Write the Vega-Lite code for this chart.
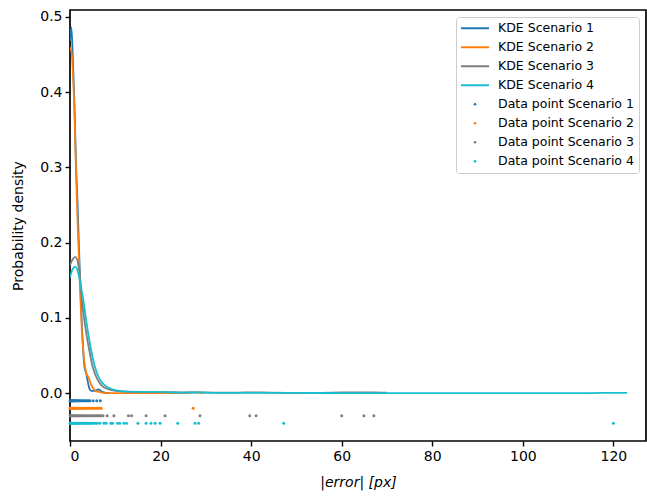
{
  "$schema": "https://vega.github.io/schema/vega-lite/v6.json",
  "width": 576,
  "height": 431,
  "autosize": {"type": "none"},
  "padding": {"left": 70, "top": 10, "right": 1, "bottom": 55},
  "background": "white",
  "config": {
    "font": "DejaVu Sans",
    "view": {"stroke": "black", "strokeWidth": 1.7},
    "axis": {
      "domain": false,
      "grid": false,
      "ticks": true,
      "tickColor": "black",
      "tickSize": 5,
      "tickWidth": 1.4,
      "labelColor": "black",
      "labelFontSize": 14,
      "labelPadding": 3,
      "titleColor": "black",
      "titleFontSize": 14,
      "titleFontWeight": "normal"
    }
  },
  "datasets": {
    "kde": [
      {"series": "KDE Scenario 1", "x": 0, "y": 0.468},
      {"series": "KDE Scenario 1", "x": 0.3, "y": 0.486},
      {"series": "KDE Scenario 1", "x": 0.6, "y": 0.45},
      {"series": "KDE Scenario 1", "x": 1.0, "y": 0.38},
      {"series": "KDE Scenario 1", "x": 1.3, "y": 0.31},
      {"series": "KDE Scenario 1", "x": 1.65, "y": 0.255},
      {"series": "KDE Scenario 1", "x": 2.0, "y": 0.19},
      {"series": "KDE Scenario 1", "x": 2.4, "y": 0.125},
      {"series": "KDE Scenario 1", "x": 2.7, "y": 0.08},
      {"series": "KDE Scenario 1", "x": 2.9, "y": 0.058},
      {"series": "KDE Scenario 1", "x": 3.1, "y": 0.04},
      {"series": "KDE Scenario 1", "x": 3.3, "y": 0.032},
      {"series": "KDE Scenario 1", "x": 3.6, "y": 0.026},
      {"series": "KDE Scenario 1", "x": 3.9, "y": 0.016},
      {"series": "KDE Scenario 1", "x": 4.3, "y": 0.006},
      {"series": "KDE Scenario 1", "x": 4.7, "y": 0.003},
      {"series": "KDE Scenario 1", "x": 5.3, "y": 0.003},
      {"series": "KDE Scenario 1", "x": 5.8, "y": 0.004},
      {"series": "KDE Scenario 1", "x": 6.3, "y": 0.005},
      {"series": "KDE Scenario 1", "x": 6.8, "y": 0.003},
      {"series": "KDE Scenario 1", "x": 7.4, "y": 0.001},
      {"series": "KDE Scenario 1", "x": 8.2, "y": 0.0002},
      {"series": "KDE Scenario 1", "x": 9.0, "y": 0},
      {"series": "KDE Scenario 2", "x": 0, "y": 0.455},
      {"series": "KDE Scenario 2", "x": 0.25, "y": 0.459},
      {"series": "KDE Scenario 2", "x": 0.6, "y": 0.43},
      {"series": "KDE Scenario 2", "x": 1.0, "y": 0.37},
      {"series": "KDE Scenario 2", "x": 1.3, "y": 0.3},
      {"series": "KDE Scenario 2", "x": 1.6, "y": 0.24},
      {"series": "KDE Scenario 2", "x": 2.0, "y": 0.175},
      {"series": "KDE Scenario 2", "x": 2.3, "y": 0.125},
      {"series": "KDE Scenario 2", "x": 2.6, "y": 0.085},
      {"series": "KDE Scenario 2", "x": 2.9, "y": 0.059},
      {"series": "KDE Scenario 2", "x": 3.2, "y": 0.04},
      {"series": "KDE Scenario 2", "x": 3.4, "y": 0.032},
      {"series": "KDE Scenario 2", "x": 3.7, "y": 0.025},
      {"series": "KDE Scenario 2", "x": 4.0, "y": 0.022},
      {"series": "KDE Scenario 2", "x": 4.3, "y": 0.018},
      {"series": "KDE Scenario 2", "x": 4.7, "y": 0.011},
      {"series": "KDE Scenario 2", "x": 5.2, "y": 0.006},
      {"series": "KDE Scenario 2", "x": 5.7, "y": 0.003},
      {"series": "KDE Scenario 2", "x": 6.2, "y": 0.002},
      {"series": "KDE Scenario 2", "x": 7.0, "y": 0.0008},
      {"series": "KDE Scenario 2", "x": 8.0, "y": 0.0002},
      {"series": "KDE Scenario 2", "x": 10.0, "y": 0},
      {"series": "KDE Scenario 2", "x": 20.0, "y": 0},
      {"series": "KDE Scenario 2", "x": 25.0, "y": 0.0001},
      {"series": "KDE Scenario 2", "x": 27.3, "y": 0.001},
      {"series": "KDE Scenario 2", "x": 29.5, "y": 0.0001},
      {"series": "KDE Scenario 3", "x": 0, "y": 0.17},
      {"series": "KDE Scenario 3", "x": 0.6, "y": 0.178},
      {"series": "KDE Scenario 3", "x": 1.2, "y": 0.181},
      {"series": "KDE Scenario 3", "x": 1.8, "y": 0.172},
      {"series": "KDE Scenario 3", "x": 2.2, "y": 0.155},
      {"series": "KDE Scenario 3", "x": 2.6, "y": 0.125},
      {"series": "KDE Scenario 3", "x": 3.0, "y": 0.105},
      {"series": "KDE Scenario 3", "x": 3.5, "y": 0.083},
      {"series": "KDE Scenario 3", "x": 4.2, "y": 0.059},
      {"series": "KDE Scenario 3", "x": 5.0, "y": 0.035},
      {"series": "KDE Scenario 3", "x": 6.0, "y": 0.019},
      {"series": "KDE Scenario 3", "x": 7.0, "y": 0.01},
      {"series": "KDE Scenario 3", "x": 8.6, "y": 0.005},
      {"series": "KDE Scenario 3", "x": 10, "y": 0.003},
      {"series": "KDE Scenario 3", "x": 12, "y": 0.002},
      {"series": "KDE Scenario 3", "x": 14, "y": 0.0015},
      {"series": "KDE Scenario 3", "x": 17, "y": 0.0015},
      {"series": "KDE Scenario 3", "x": 21, "y": 0.0015},
      {"series": "KDE Scenario 3", "x": 25, "y": 0.001},
      {"series": "KDE Scenario 3", "x": 29, "y": 0.001},
      {"series": "KDE Scenario 3", "x": 33, "y": 0.0007},
      {"series": "KDE Scenario 3", "x": 37, "y": 0.0008},
      {"series": "KDE Scenario 3", "x": 40.5, "y": 0.0012},
      {"series": "KDE Scenario 3", "x": 44, "y": 0.0008},
      {"series": "KDE Scenario 3", "x": 50, "y": 0.0005},
      {"series": "KDE Scenario 3", "x": 55, "y": 0.0005},
      {"series": "KDE Scenario 3", "x": 60, "y": 0.0009},
      {"series": "KDE Scenario 3", "x": 64, "y": 0.001},
      {"series": "KDE Scenario 3", "x": 67, "y": 0.001},
      {"series": "KDE Scenario 3", "x": 69, "y": 0.0008},
      {"series": "KDE Scenario 3", "x": 70, "y": 0.0006},
      {"series": "KDE Scenario 4", "x": 0, "y": 0.154},
      {"series": "KDE Scenario 4", "x": 0.6, "y": 0.165},
      {"series": "KDE Scenario 4", "x": 1.2, "y": 0.168},
      {"series": "KDE Scenario 4", "x": 1.8, "y": 0.16},
      {"series": "KDE Scenario 4", "x": 2.3, "y": 0.145},
      {"series": "KDE Scenario 4", "x": 2.9, "y": 0.125},
      {"series": "KDE Scenario 4", "x": 3.5, "y": 0.1},
      {"series": "KDE Scenario 4", "x": 4.0, "y": 0.08},
      {"series": "KDE Scenario 4", "x": 4.6, "y": 0.059},
      {"series": "KDE Scenario 4", "x": 5.5, "y": 0.035},
      {"series": "KDE Scenario 4", "x": 6.5, "y": 0.019},
      {"series": "KDE Scenario 4", "x": 7.8, "y": 0.01},
      {"series": "KDE Scenario 4", "x": 9.4, "y": 0.005},
      {"series": "KDE Scenario 4", "x": 11, "y": 0.003},
      {"series": "KDE Scenario 4", "x": 13, "y": 0.002},
      {"series": "KDE Scenario 4", "x": 16, "y": 0.0018},
      {"series": "KDE Scenario 4", "x": 19, "y": 0.0018},
      {"series": "KDE Scenario 4", "x": 22, "y": 0.0012},
      {"series": "KDE Scenario 4", "x": 25, "y": 0.0008},
      {"series": "KDE Scenario 4", "x": 28, "y": 0.001},
      {"series": "KDE Scenario 4", "x": 32, "y": 0.0005},
      {"series": "KDE Scenario 4", "x": 38, "y": 0.0003},
      {"series": "KDE Scenario 4", "x": 44, "y": 0.0003},
      {"series": "KDE Scenario 4", "x": 47, "y": 0.0005},
      {"series": "KDE Scenario 4", "x": 50, "y": 0.0003},
      {"series": "KDE Scenario 4", "x": 60, "y": 0.0002},
      {"series": "KDE Scenario 4", "x": 80, "y": 0.0001},
      {"series": "KDE Scenario 4", "x": 100, "y": 0.0001},
      {"series": "KDE Scenario 4", "x": 115, "y": 0.0002},
      {"series": "KDE Scenario 4", "x": 120, "y": 0.0004},
      {"series": "KDE Scenario 4", "x": 123, "y": 0.0003}
    ],
    "pts": [
      {"series": "Data point Scenario 1", "x": 0.02, "y": -0.01},
      {"series": "Data point Scenario 1", "x": 0.1, "y": -0.01},
      {"series": "Data point Scenario 1", "x": 0.2, "y": -0.01},
      {"series": "Data point Scenario 1", "x": 0.3, "y": -0.01},
      {"series": "Data point Scenario 1", "x": 0.4, "y": -0.01},
      {"series": "Data point Scenario 1", "x": 0.5, "y": -0.01},
      {"series": "Data point Scenario 1", "x": 0.6, "y": -0.01},
      {"series": "Data point Scenario 1", "x": 0.75, "y": -0.01},
      {"series": "Data point Scenario 1", "x": 0.9, "y": -0.01},
      {"series": "Data point Scenario 1", "x": 1.05, "y": -0.01},
      {"series": "Data point Scenario 1", "x": 1.2, "y": -0.01},
      {"series": "Data point Scenario 1", "x": 1.4, "y": -0.01},
      {"series": "Data point Scenario 1", "x": 1.6, "y": -0.01},
      {"series": "Data point Scenario 1", "x": 1.8, "y": -0.01},
      {"series": "Data point Scenario 1", "x": 2.0, "y": -0.01},
      {"series": "Data point Scenario 1", "x": 2.2, "y": -0.01},
      {"series": "Data point Scenario 1", "x": 2.45, "y": -0.01},
      {"series": "Data point Scenario 1", "x": 2.7, "y": -0.01},
      {"series": "Data point Scenario 1", "x": 2.95, "y": -0.01},
      {"series": "Data point Scenario 1", "x": 3.2, "y": -0.01},
      {"series": "Data point Scenario 1", "x": 3.5, "y": -0.01},
      {"series": "Data point Scenario 1", "x": 3.8, "y": -0.01},
      {"series": "Data point Scenario 1", "x": 4.1, "y": -0.01},
      {"series": "Data point Scenario 1", "x": 4.4, "y": -0.01},
      {"series": "Data point Scenario 1", "x": 5.1, "y": -0.01},
      {"series": "Data point Scenario 1", "x": 5.9, "y": -0.01},
      {"series": "Data point Scenario 1", "x": 6.7, "y": -0.01},
      {"series": "Data point Scenario 2", "x": 0.02, "y": -0.02},
      {"series": "Data point Scenario 2", "x": 0.1, "y": -0.02},
      {"series": "Data point Scenario 2", "x": 0.2, "y": -0.02},
      {"series": "Data point Scenario 2", "x": 0.3, "y": -0.02},
      {"series": "Data point Scenario 2", "x": 0.45, "y": -0.02},
      {"series": "Data point Scenario 2", "x": 0.6, "y": -0.02},
      {"series": "Data point Scenario 2", "x": 0.75, "y": -0.02},
      {"series": "Data point Scenario 2", "x": 0.9, "y": -0.02},
      {"series": "Data point Scenario 2", "x": 1.1, "y": -0.02},
      {"series": "Data point Scenario 2", "x": 1.3, "y": -0.02},
      {"series": "Data point Scenario 2", "x": 1.5, "y": -0.02},
      {"series": "Data point Scenario 2", "x": 1.7, "y": -0.02},
      {"series": "Data point Scenario 2", "x": 1.9, "y": -0.02},
      {"series": "Data point Scenario 2", "x": 2.1, "y": -0.02},
      {"series": "Data point Scenario 2", "x": 2.35, "y": -0.02},
      {"series": "Data point Scenario 2", "x": 2.6, "y": -0.02},
      {"series": "Data point Scenario 2", "x": 2.85, "y": -0.02},
      {"series": "Data point Scenario 2", "x": 3.1, "y": -0.02},
      {"series": "Data point Scenario 2", "x": 3.4, "y": -0.02},
      {"series": "Data point Scenario 2", "x": 3.7, "y": -0.02},
      {"series": "Data point Scenario 2", "x": 4.0, "y": -0.02},
      {"series": "Data point Scenario 2", "x": 4.3, "y": -0.02},
      {"series": "Data point Scenario 2", "x": 4.6, "y": -0.02},
      {"series": "Data point Scenario 2", "x": 4.9, "y": -0.02},
      {"series": "Data point Scenario 2", "x": 5.2, "y": -0.02},
      {"series": "Data point Scenario 2", "x": 5.5, "y": -0.02},
      {"series": "Data point Scenario 2", "x": 5.85, "y": -0.02},
      {"series": "Data point Scenario 2", "x": 6.2, "y": -0.02},
      {"series": "Data point Scenario 2", "x": 6.6, "y": -0.02},
      {"series": "Data point Scenario 2", "x": 6.9, "y": -0.02},
      {"series": "Data point Scenario 2", "x": 27.2, "y": -0.02},
      {"series": "Data point Scenario 3", "x": 0.02, "y": -0.03},
      {"series": "Data point Scenario 3", "x": 0.15, "y": -0.03},
      {"series": "Data point Scenario 3", "x": 0.3, "y": -0.03},
      {"series": "Data point Scenario 3", "x": 0.45, "y": -0.03},
      {"series": "Data point Scenario 3", "x": 0.6, "y": -0.03},
      {"series": "Data point Scenario 3", "x": 0.8, "y": -0.03},
      {"series": "Data point Scenario 3", "x": 1.0, "y": -0.03},
      {"series": "Data point Scenario 3", "x": 1.2, "y": -0.03},
      {"series": "Data point Scenario 3", "x": 1.4, "y": -0.03},
      {"series": "Data point Scenario 3", "x": 1.6, "y": -0.03},
      {"series": "Data point Scenario 3", "x": 1.8, "y": -0.03},
      {"series": "Data point Scenario 3", "x": 2.0, "y": -0.03},
      {"series": "Data point Scenario 3", "x": 2.25, "y": -0.03},
      {"series": "Data point Scenario 3", "x": 2.5, "y": -0.03},
      {"series": "Data point Scenario 3", "x": 2.75, "y": -0.03},
      {"series": "Data point Scenario 3", "x": 3.0, "y": -0.03},
      {"series": "Data point Scenario 3", "x": 3.3, "y": -0.03},
      {"series": "Data point Scenario 3", "x": 3.6, "y": -0.03},
      {"series": "Data point Scenario 3", "x": 3.9, "y": -0.03},
      {"series": "Data point Scenario 3", "x": 4.2, "y": -0.03},
      {"series": "Data point Scenario 3", "x": 4.5, "y": -0.03},
      {"series": "Data point Scenario 3", "x": 4.8, "y": -0.03},
      {"series": "Data point Scenario 3", "x": 5.1, "y": -0.03},
      {"series": "Data point Scenario 3", "x": 5.4, "y": -0.03},
      {"series": "Data point Scenario 3", "x": 5.7, "y": -0.03},
      {"series": "Data point Scenario 3", "x": 6.0, "y": -0.03},
      {"series": "Data point Scenario 3", "x": 6.3, "y": -0.03},
      {"series": "Data point Scenario 3", "x": 6.6, "y": -0.03},
      {"series": "Data point Scenario 3", "x": 6.9, "y": -0.03},
      {"series": "Data point Scenario 3", "x": 7.3, "y": -0.03},
      {"series": "Data point Scenario 3", "x": 8.2, "y": -0.03},
      {"series": "Data point Scenario 3", "x": 9.7, "y": -0.03},
      {"series": "Data point Scenario 3", "x": 12.9, "y": -0.03},
      {"series": "Data point Scenario 3", "x": 13.6, "y": -0.03},
      {"series": "Data point Scenario 3", "x": 16.8, "y": -0.03},
      {"series": "Data point Scenario 3", "x": 21.0, "y": -0.03},
      {"series": "Data point Scenario 3", "x": 28.7, "y": -0.03},
      {"series": "Data point Scenario 3", "x": 39.7, "y": -0.03},
      {"series": "Data point Scenario 3", "x": 41.1, "y": -0.03},
      {"series": "Data point Scenario 3", "x": 60.0, "y": -0.03},
      {"series": "Data point Scenario 3", "x": 64.9, "y": -0.03},
      {"series": "Data point Scenario 3", "x": 67.1, "y": -0.03},
      {"series": "Data point Scenario 4", "x": 0.02, "y": -0.04},
      {"series": "Data point Scenario 4", "x": 0.15, "y": -0.04},
      {"series": "Data point Scenario 4", "x": 0.3, "y": -0.04},
      {"series": "Data point Scenario 4", "x": 0.45, "y": -0.04},
      {"series": "Data point Scenario 4", "x": 0.6, "y": -0.04},
      {"series": "Data point Scenario 4", "x": 0.8, "y": -0.04},
      {"series": "Data point Scenario 4", "x": 1.0, "y": -0.04},
      {"series": "Data point Scenario 4", "x": 1.2, "y": -0.04},
      {"series": "Data point Scenario 4", "x": 1.4, "y": -0.04},
      {"series": "Data point Scenario 4", "x": 1.6, "y": -0.04},
      {"series": "Data point Scenario 4", "x": 1.8, "y": -0.04},
      {"series": "Data point Scenario 4", "x": 2.0, "y": -0.04},
      {"series": "Data point Scenario 4", "x": 2.25, "y": -0.04},
      {"series": "Data point Scenario 4", "x": 2.5, "y": -0.04},
      {"series": "Data point Scenario 4", "x": 2.75, "y": -0.04},
      {"series": "Data point Scenario 4", "x": 3.0, "y": -0.04},
      {"series": "Data point Scenario 4", "x": 3.3, "y": -0.04},
      {"series": "Data point Scenario 4", "x": 3.6, "y": -0.04},
      {"series": "Data point Scenario 4", "x": 3.9, "y": -0.04},
      {"series": "Data point Scenario 4", "x": 4.2, "y": -0.04},
      {"series": "Data point Scenario 4", "x": 4.5, "y": -0.04},
      {"series": "Data point Scenario 4", "x": 4.8, "y": -0.04},
      {"series": "Data point Scenario 4", "x": 5.2, "y": -0.04},
      {"series": "Data point Scenario 4", "x": 5.6, "y": -0.04},
      {"series": "Data point Scenario 4", "x": 6.0, "y": -0.04},
      {"series": "Data point Scenario 4", "x": 6.6, "y": -0.04},
      {"series": "Data point Scenario 4", "x": 7.5, "y": -0.04},
      {"series": "Data point Scenario 4", "x": 8.0, "y": -0.04},
      {"series": "Data point Scenario 4", "x": 9.0, "y": -0.04},
      {"series": "Data point Scenario 4", "x": 9.4, "y": -0.04},
      {"series": "Data point Scenario 4", "x": 10.5, "y": -0.04},
      {"series": "Data point Scenario 4", "x": 11.0, "y": -0.04},
      {"series": "Data point Scenario 4", "x": 11.9, "y": -0.04},
      {"series": "Data point Scenario 4", "x": 12.5, "y": -0.04},
      {"series": "Data point Scenario 4", "x": 15.0, "y": -0.04},
      {"series": "Data point Scenario 4", "x": 16.8, "y": -0.04},
      {"series": "Data point Scenario 4", "x": 17.9, "y": -0.04},
      {"series": "Data point Scenario 4", "x": 18.8, "y": -0.04},
      {"series": "Data point Scenario 4", "x": 19.9, "y": -0.04},
      {"series": "Data point Scenario 4", "x": 23.8, "y": -0.04},
      {"series": "Data point Scenario 4", "x": 27.6, "y": -0.04},
      {"series": "Data point Scenario 4", "x": 28.4, "y": -0.04},
      {"series": "Data point Scenario 4", "x": 47.2, "y": -0.04},
      {"series": "Data point Scenario 4", "x": 120.0, "y": -0.04}
    ]
  },
  "layer": [
    {
      "data": {"name": "kde"},
      "mark": {"type": "line", "strokeWidth": 1.8, "interpolate": "monotone", "clip": true},
      "encoding": {
        "x": {
          "field": "x", "type": "quantitative",
          "scale": {"domain": [0, 127.2], "nice": false, "zero": false},
          "axis": {"values": [0, 20, 40, 60, 80, 100, 120], "title": "|error| [px]", "titleFontStyle": "italic", "titlePadding": 12}
        },
        "y": {
          "field": "y", "type": "quantitative",
          "scale": {"domain": [-0.0635, 0.509], "nice": false, "zero": false},
          "axis": {"values": [0, 0.1, 0.2, 0.3, 0.4, 0.5], "format": ".1f", "title": "Probability density", "titlePadding": 14}
        },
        "color": {
          "field": "series", "type": "nominal",
          "scale": {
            "domain": ["KDE Scenario 1", "KDE Scenario 2", "KDE Scenario 3", "KDE Scenario 4", "Data point Scenario 1", "Data point Scenario 2", "Data point Scenario 3", "Data point Scenario 4"],
            "range": ["#1f77b4", "#ff7f0e", "#7f7f7f", "#17becf", "#1f77b4", "#ff7f0e", "#7f7f7f", "#17becf"]
          },
          "legend": {
            "title": null,
            "orient": "none",
            "legendX": 386,
            "legendY": 7,
            "padding": 5,
            "fillColor": "white",
            "strokeColor": "#cccccc",
            "cornerRadius": 3,
            "labelFontSize": 12.5,
            "labelColor": "black",
            "labelOffset": 10,
            "rowPadding": 6,
            "symbolType": "stroke",
            "symbolSize": 784,
            "symbolStrokeWidth": 2,
            "encode": {
              "symbols": {
                "update": {
                  "x": {"value": 14},
                  "shape": {"signal": "test(/^KDE/, datum.value) ? 'stroke' : 'circle'"},
                  "size": {"signal": "test(/^KDE/, datum.value) ? 784 : 7"},
                  "strokeWidth": {"signal": "test(/^KDE/, datum.value) ? 2 : 0"},
                  "fill": {"signal": "scale('color', datum.value)"},
                  "stroke": {"signal": "scale('color', datum.value)"},
                  "opacity": {"value": 1}
                }
              },
              "labels": {
                "update": {
                  "x": {"value": 37}
                }
              }
            }
          }
        }
      }
    },
    {
      "data": {"name": "pts"},
      "mark": {"type": "point", "filled": true, "size": 9, "opacity": 1},
      "encoding": {
        "x": {"field": "x", "type": "quantitative"},
        "y": {"field": "y", "type": "quantitative"},
        "color": {"field": "series", "type": "nominal"}
      }
    }
  ]
}
